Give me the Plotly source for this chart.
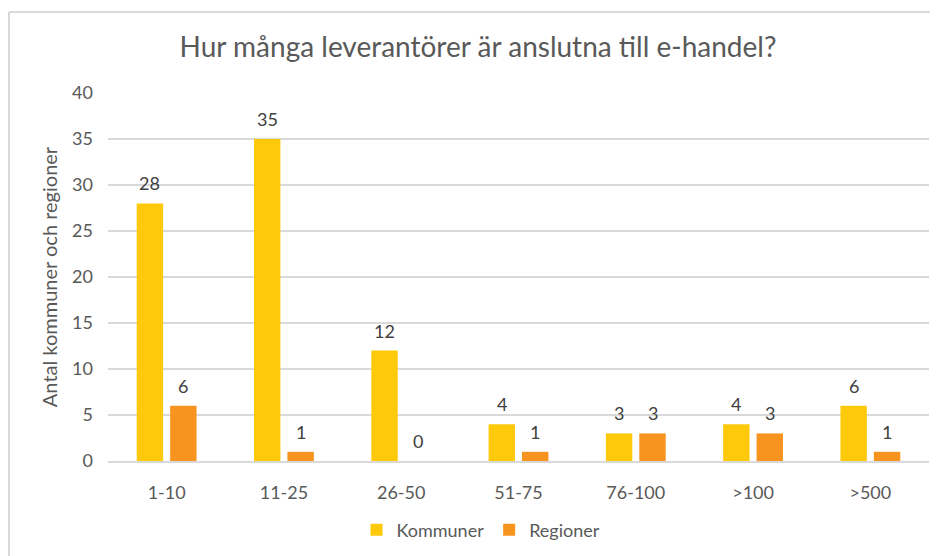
import plotly.graph_objects as go

categories = ["1-10", "11-25", "26-50", "51-75", "76-100", ">100", ">500"]
kommuner = [28, 35, 12, 4, 3, 4, 6]
regioner = [6, 1, 0, 1, 3, 3, 1]

FONT = "Lato, 'Open Sans', sans-serif"
TXT = "#595959"
LBL = "#404040"

# the page body adds an 8 px offset; compensate so marks land at reference pixels
OFS = 8
W, H = 938 - OFS, 556 - OFS
L, R, T, B = 108 - OFS, 9, 93 - OFS, 95
pw, ph = W - L - R, H - T - B

fig = go.Figure()
fig.add_trace(go.Bar(
    x=categories, y=kommuner, name="Kommuner",
    marker=dict(color="#FFC90B", line=dict(width=0)),
))
fig.add_trace(go.Bar(
    x=categories, y=regioner, name="Regioner",
    marker=dict(color="#F7941F", line=dict(width=0)),
))

cat_w = pw / len(categories)
bargap, bargroupgap = 0.43, 0.21
slot = cat_w * (1 - bargap) / 2
off = slot / 2

annotations = []
for c, v in zip(categories, kommuner):
    annotations.append(dict(x=c, y=v, xref="x", yref="y", text=str(v), showarrow=False,
                            xshift=-off, yshift=20, yanchor="middle",
                            font=dict(family=FONT, size=18, color=LBL)))
for c, v in zip(categories, regioner):
    annotations.append(dict(x=c, y=v, xref="x", yref="y", text=str(v), showarrow=False,
                            xshift=off, yshift=20, yanchor="middle",
                            font=dict(family=FONT, size=18, color=LBL)))

def px_x(x):
    return (x - OFS - L) / pw

def px_y(y):
    return (H - B - (y - OFS)) / ph

fig.update_layout(
    width=W, height=H,
    margin=dict(l=L, r=R, t=T, b=B, autoexpand=False),
    paper_bgcolor="white", plot_bgcolor="white",
    font=dict(family=FONT, color=TXT, size=18),
    title=dict(text="Hur många leverantörer är anslutna till e-handel?",
               x=(478 - OFS) / W, xanchor="center", y=1 - (47 - OFS) / H, yanchor="middle",
               font=dict(family=FONT, size=28, color=TXT)),
    barmode="group", bargap=bargap, bargroupgap=bargroupgap,
    showlegend=True,
    legend=dict(orientation="h", x=px_x(481), xanchor="center",
                y=px_y(530), yanchor="middle",
                font=dict(family=FONT, size=18, color=TXT)),
    xaxis=dict(showgrid=False, showline=True, linecolor="#D9D9D9", linewidth=2,
               ticks="", ticklabelstandoff=14, automargin=False,
               tickfont=dict(family=FONT, size=18, color=TXT)),
    yaxis=dict(range=[0, 40], dtick=5, showgrid=True, gridcolor="#D9D9D9", gridwidth=2,
               zeroline=False, showline=False, ticks="", ticklabelstandoff=14,
               automargin=False,
               tickfont=dict(family=FONT, size=18, color=TXT),
               title=dict(text="Antal kommuner och regioner",
                          font=dict(family=FONT, size=20, color=TXT), standoff=9)),
    annotations=annotations,
    shapes=[
        dict(type="line", xref="paper", yref="paper",
             x0=px_x(9), x1=px_x(938), y0=px_y(12), y1=px_y(12),
             line=dict(color="#D9D9D9", width=2)),
        dict(type="line", xref="paper", yref="paper",
             x0=px_x(9), x1=px_x(9), y0=px_y(12), y1=px_y(556),
             line=dict(color="#D9D9D9", width=2)),
    ],
)

fig.write_html("out.html")
